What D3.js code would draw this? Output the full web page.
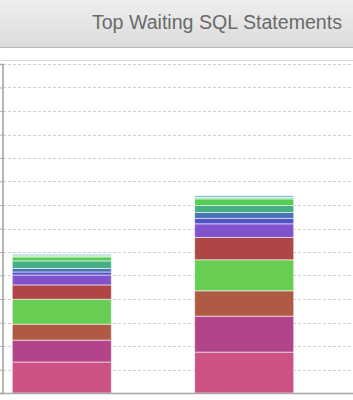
<!DOCTYPE html>
<meta charset="utf-8">
<script src="https://d3js.org/d3.v7.min.js"></script>
<style>
  body { margin: 0; background: #fff; overflow: hidden; }
</style>
<div id="chart"></div>
<script>

// data (units of the hidden y axis)
const categories = ["Snapshot 1", "Snapshot 2"]
const seriesNames = ["SQL 1", "SQL 2", "SQL 3", "SQL 4", "SQL 5", "SQL 6",
                     "SQL 7", "SQL 8", "SQL 9", "SQL 10", "SQL 11", "SQL 12"]
const seriesColors = ["#cb5283", "#b2448a", "#af5a44", "#67cd53", "#af4545", "#8052cc",
                      "#5353c9", "#4a72b4", "#45ae85", "#55cc55", "#8fdc8f", "#7cc6c6"]
const valuesA = [13.2, 9.3, 6.8, 10.6, 6.1, 4.2, 1.3, 1.5, 3.2, 1.7, 0.5, 0.6]
const valuesB = [17.4, 15.3, 10.8, 13.2, 9.5, 5.8, 2.3, 2.5, 3.0, 2.8, 0.6, 0.8]
const yTicks = d3.range(0, 150, 10)
const title = "Top Waiting SQL Statements"

const W = 353, H = 400
const plot = {left: 3, top: 61, bottom: 393, right: W}

const svg = d3.select("#chart").append("svg")
    .attr("width", W)
    .attr("height", H)

// header bar
const grad = svg.append("defs").append("linearGradient")
    .attr("id", "hdr").attr("x1", 0).attr("y1", 0).attr("x2", 0).attr("y2", 1)
grad.append("stop").attr("offset", "0%").attr("stop-color", "#eeeeee")
grad.append("stop").attr("offset", "100%").attr("stop-color", "#dcdcdc")

svg.append("rect")
    .attr("x", 0).attr("y", 0).attr("width", W).attr("height", 47)
    .attr("fill", "url(#hdr)")
svg.append("line")
    .attr("x1", 0).attr("x2", W).attr("y1", 47.5).attr("y2", 47.5)
    .attr("stroke", "#b8b8b8")

svg.append("text")
    .attr("x", 342).attr("y", 29)
    .attr("text-anchor", "end")
    .attr("font-family", "'Liberation Sans', Arial, sans-serif")
    .attr("font-size", 19.6)
    .attr("fill", "#6a6a6a")
    .text(title)

// scales
const y = d3.scaleLinear()
    .domain([0, 140])
    .range([plot.bottom, 64])

const x = d3.scaleBand()
    .domain(categories)
    .range([plot.left, plot.left + 300])
    .paddingInner(0.457)
    .paddingOuter(0.051)

// plot border on top
svg.append("line")
    .attr("x1", 0).attr("x2", W).attr("y1", 60.5).attr("y2", 60.5)
    .attr("stroke", "#d4d4d4")

// gridlines
svg.append("g")
  .selectAll("line")
  .data(yTicks.slice(1))
  .join("line")
    .attr("x1", plot.left).attr("x2", W)
    .attr("y1", d => Math.round(y(d)) + 0.5)
    .attr("y2", d => Math.round(y(d)) + 0.5)
    .attr("stroke", "#cfcfcf")
    .attr("stroke-dasharray", "3,2")

// left axis
const axis = svg.append("g")
    .attr("transform", "translate(" + (plot.left - 0.5) + ",0)")
    .call(d3.axisLeft(y).tickValues(yTicks).tickSize(3).tickFormat(""))
axis.select(".domain").attr("stroke", "#a0a0a0").attr("stroke-width", 1.5)
axis.selectAll(".tick line").attr("stroke", "#b0b0b0")

// stacked bars
const rows = categories.map((c, i) => {
    const vals = i === 0 ? valuesA : valuesB
    const row = {cat: c}
    seriesNames.forEach((s, j) => row[s] = vals[j])
    return row
})
const stacked = d3.stack().keys(seriesNames)(rows)

svg.append("g")
  .selectAll("g")
  .data(stacked)
  .join("g")
    .attr("fill", (d, i) => seriesColors[i])
  .selectAll("rect")
  .data(d => d)
  .join("rect")
    .attr("x", d => x(d.data.cat))
    .attr("width", x.bandwidth())
    .attr("y", d => y(d[1]))
    .attr("height", d => y(d[0]) - y(d[1]))
    .attr("stroke", "rgba(255,255,255,0.55)")
    .attr("stroke-width", 1)

// x baseline
svg.append("line")
    .attr("x1", 0).attr("x2", W)
    .attr("y1", plot.bottom + 0.5).attr("y2", plot.bottom + 0.5)
    .attr("stroke", "#a8a8a8")
    .attr("stroke-width", 1.5)

</script>
